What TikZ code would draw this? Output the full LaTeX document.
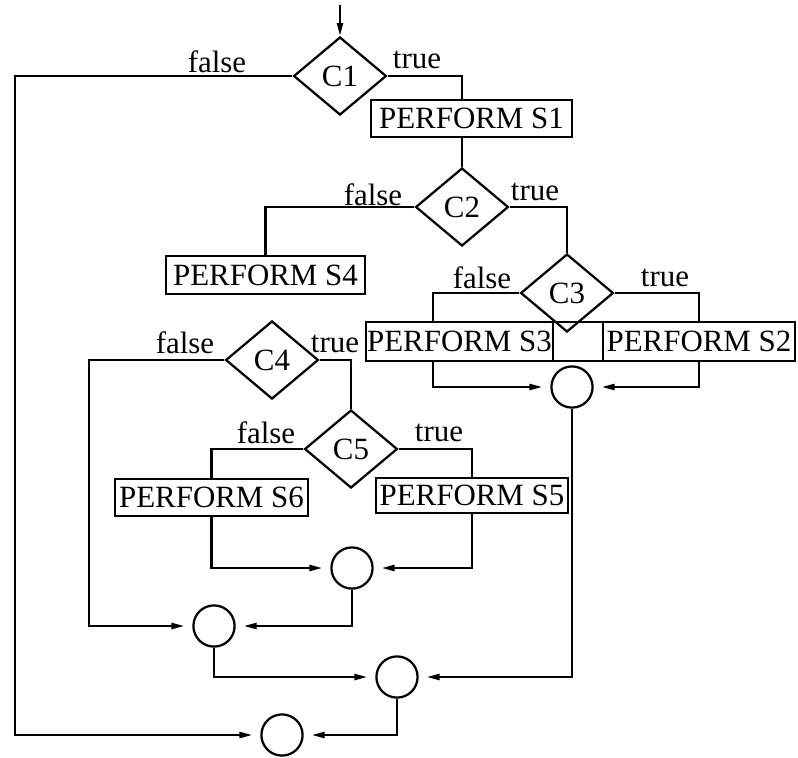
\documentclass[tikz,border=0pt]{standalone}
\usepackage{fontspec}
\setmainfont{Liberation Serif}
\usetikzlibrary{shapes.geometric,arrows.meta}
\begin{document}
\begin{tikzpicture}
[x=0.25mm,y=-0.25mm,line width=1.6pt,font=\fontsize{22}{26}\selectfont,
 test/.style={diamond,draw,aspect=1.2,minimum width=23.2mm,minimum height=19.5mm,inner sep=0pt},
 perform/.style={rectangle,draw,minimum width=48mm,minimum height=9.4mm,inner sep=0pt},
 merge/.style={circle,draw,minimum size=10.3mm,inner sep=0pt},
 lbl/.style={inner sep=0pt},
 flow/.style={-{Triangle[length=3.2mm,width=1.5mm]},shorten >=2mm}]
\useasboundingbox (0,0) rectangle (798,757);
% tests
\node[test] (c1) at (340,76) {C1};
\node[test] (c2) at (462,207) {C2};
\node[test] (c3) at (567,293) {C3};
\node[test] (c4) at (272,360) {C4};
\node[test] (c5) at (351,449) {C5};
% actions
\node[perform,minimum width=50.2mm,minimum height=9.3mm] (s1) at (471.5,118.5) {PERFORM S1};
\node[perform,minimum width=49.7mm] (s4) at (265.5,275) {PERFORM S4};
\node[perform,minimum width=46.7mm,minimum height=9.8mm] (s3) at (459.5,341.5) {PERFORM S3};
\node[perform,minimum width=12.5mm,minimum height=9.8mm] (gap) at (578,341.5) {};
\node[perform,minimum width=48mm,minimum height=9.8mm] (s2) at (699,341.5) {PERFORM S2};
\node[perform,minimum width=48.2mm,minimum height=9.3mm] (s6) at (211.5,497.5) {PERFORM S6};
\node[perform,minimum width=48mm,minimum height=8.8mm] (s5) at (472,495.5) {PERFORM S5};
% merge points
\node[merge] (m23) at (572,387) {};
\node[merge] (m56) at (352,568) {};
\node[merge] (m4) at (214,626) {};
\node[merge] (m7) at (397,677) {};
\node[merge] (m0) at (282,735) {};
% labels
\node[lbl] (f1) at (217,62) {false};
\node[lbl] (t1) at (417,60) {true};
\node[lbl] (f2) at (373,195) {false};
\node[lbl] (t2) at (535,192) {true};
\node[lbl] (f3) at (482,278) {false};
\node[lbl] (t3) at (665,278) {true};
\node[lbl] (f4) at (185,343) {false};
\node[lbl] (t4) at (335,344) {true};
\node[lbl] (f5) at (266,433) {false};
\node[lbl] (t5) at (439,433) {true};
% turning points
\coordinate (entry) at (340,5);
\coordinate (west1) at (15,400);
\coordinate (west4) at (89,500);
\coordinate (a3) at (433,340);
% connectors
\draw[-{Triangle[length=3.2mm,width=1.5mm]}] (entry) -- (c1.north);
\draw[flow] (c1.west) -| (west1) |- (m0.west);
\draw (c1.east) -| (s1.north -| c2.north);
\draw (s1.south -| c2.north) -- (c2.north);
\draw (c2.west) -| (s4.north);
\draw (c2.east) -| (c3.north);
\draw (c3.west) -| (a3 |- s3.north);
\draw (c3.east) -| (s2.north);
\draw[flow] (a3 |- s3.south) |- (m23.west);
\draw[flow] (s2.south) |- (m23.east);
\draw[flow] (m23.south) |- (m7.east);
\draw[flow] (c4.west) -| (west4) |- (m4.west);
\draw (c4.east) -| (c5.north);
\draw (c5.west) -| (s6.north);
\draw (c5.east) -| (s5.north);
\draw[flow] (s6.south) |- (m56.west);
\draw[flow] (s5.south) |- (m56.east);
\draw[flow] (m56.south) |- (m4.east);
\draw[flow] (m4.south) |- (m7.west);
\draw[flow] (m7.south) |- (m0.east);
\end{tikzpicture}
\end{document}
